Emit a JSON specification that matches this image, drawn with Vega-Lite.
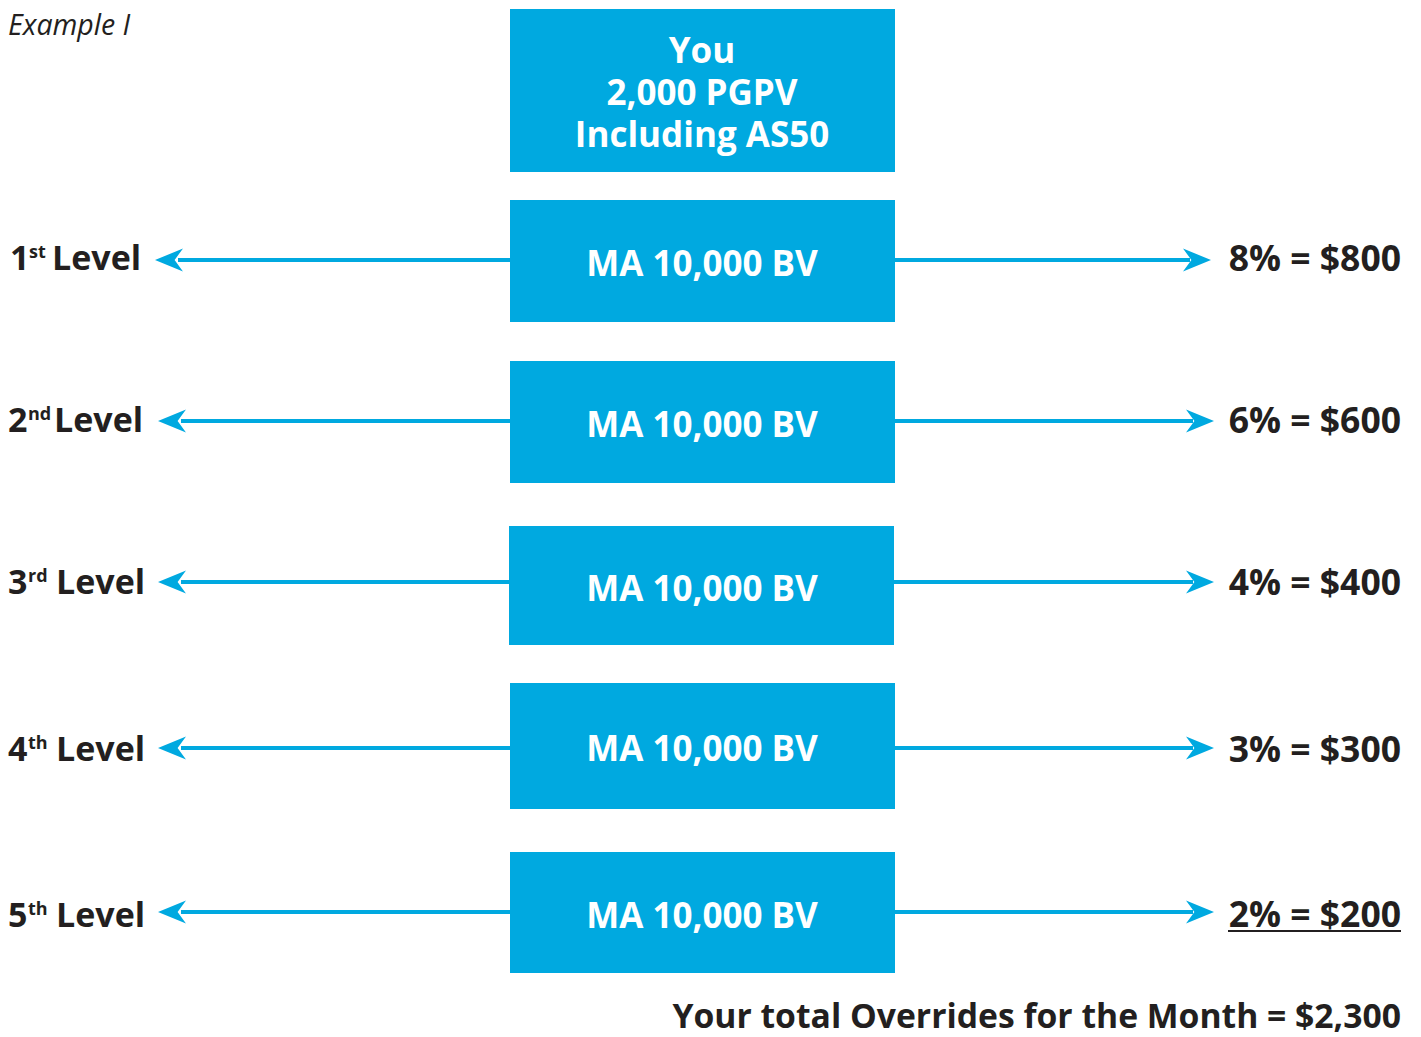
{
  "$schema": "https://vega.github.io/schema/vega-lite/v6.json",
  "width": 1421,
  "height": 1037,
  "padding": 0,
  "autosize": {"type": "fit", "contains": "padding"},
  "background": "white",
  "config": {"view": {"stroke": null}},
  "datasets": {
    "boxes": [
      {"x": 510, "x2": 895, "y": 9, "y2": 172},
      {"x": 510, "x2": 895, "y": 200, "y2": 322},
      {"x": 510, "x2": 895, "y": 361, "y2": 483},
      {"x": 509, "x2": 894, "y": 526, "y2": 645},
      {"x": 510, "x2": 895, "y": 683, "y2": 809},
      {"x": 510, "x2": 895, "y": 852, "y2": 973}
    ],
    "lines": [
      {"x": 178, "x2": 510, "y": 260},
      {"x": 895, "x2": 1190, "y": 260},
      {"x": 181, "x2": 510, "y": 421},
      {"x": 895, "x2": 1193, "y": 421},
      {"x": 181, "x2": 509, "y": 582},
      {"x": 894, "x2": 1193, "y": 582},
      {"x": 181, "x2": 510, "y": 748},
      {"x": 895, "x2": 1193, "y": 748},
      {"x": 181, "x2": 510, "y": 912},
      {"x": 895, "x2": 1193, "y": 912}
    ],
    "heads": [
      {"x": 169, "y": 260, "dir": "L"},
      {"x": 1197, "y": 260, "dir": "R"},
      {"x": 172, "y": 421, "dir": "L"},
      {"x": 1200, "y": 421, "dir": "R"},
      {"x": 172, "y": 582, "dir": "L"},
      {"x": 1200, "y": 582, "dir": "R"},
      {"x": 172, "y": 748, "dir": "L"},
      {"x": 1200, "y": 748, "dir": "R"},
      {"x": 172, "y": 912, "dir": "L"},
      {"x": 1200, "y": 912, "dir": "R"}
    ],
    "leftText": [
      {"x": 10, "y": 270, "t": "1"},
      {"x": 52, "y": 270, "t": "Level"},
      {"x": 8, "y": 432, "t": "2"},
      {"x": 54, "y": 432, "t": "Level"},
      {"x": 8, "y": 594, "t": "3"},
      {"x": 56, "y": 594, "t": "Level"},
      {"x": 8, "y": 761, "t": "4"},
      {"x": 56, "y": 761, "t": "Level"},
      {"x": 8, "y": 927, "t": "5"},
      {"x": 56, "y": 927, "t": "Level"}
    ],
    "sup": [
      {"x": 29, "y": 258, "t": "st"},
      {"x": 28, "y": 420, "t": "nd"},
      {"x": 28, "y": 582, "t": "rd"},
      {"x": 28, "y": 749, "t": "th"},
      {"x": 28, "y": 915, "t": "th"}
    ],
    "rightText": [
      {"x": 1401, "y": 271, "t": "8% = $800"},
      {"x": 1401, "y": 433, "t": "6% = $600"},
      {"x": 1401, "y": 595, "t": "4% = $400"},
      {"x": 1401, "y": 762, "t": "3% = $300"},
      {"x": 1401, "y": 927, "t": "2% = $200"}
    ],
    "total": [
      {"x": 1401, "y": 1028, "t": "Your total Overrides for the Month = $2,300"}
    ],
    "boxText": [
      {"x": 702, "y": 52, "t": "You\n2,000 PGPV\nIncluding AS50"},
      {"x": 702, "y": 265, "t": "MA 10,000 BV"},
      {"x": 702, "y": 426, "t": "MA 10,000 BV"},
      {"x": 702, "y": 590, "t": "MA 10,000 BV"},
      {"x": 702, "y": 750, "t": "MA 10,000 BV"},
      {"x": 702, "y": 917, "t": "MA 10,000 BV"}
    ],
    "underline": [
      {"x": 1228, "x2": 1401, "y": 931}
    ],
    "title": [
      {"x": 8, "y": 35, "t": "Example I"}
    ]
  },
  "encoding": {
    "x": {"field": "x", "type": "quantitative", "scale": {"domain": [0, 1421], "nice": false, "zero": false}, "axis": null},
    "y": {"field": "y", "type": "quantitative", "scale": {"domain": [0, 1037], "nice": false, "zero": false, "reverse": true}, "axis": null}
  },
  "layer": [
    {
      "data": {"name": "boxes"},
      "mark": {"type": "rect", "color": "#00A9E0"},
      "encoding": {"x2": {"field": "x2"}, "y2": {"field": "y2"}}
    },
    {
      "data": {"name": "lines"},
      "mark": {"type": "rule", "color": "#00A9E0", "strokeWidth": 4},
      "encoding": {"x2": {"field": "x2"}}
    },
    {
      "data": {"name": "heads"},
      "mark": {"type": "point", "filled": true, "color": "#00A9E0", "size": 784, "opacity": 1, "strokeWidth": 0},
      "encoding": {
        "shape": {"field": "dir", "type": "nominal", "legend": null,
          "scale": {"domain": ["L", "R"], "range": ["M -1 0 L 1 -0.82 L 0.4 0 L 1 0.82 Z", "M 1 0 L -1 -0.82 L -0.4 0 L -1 0.82 Z"]}}
      }
    },
    {
      "data": {"name": "leftText"},
      "mark": {"type": "text", "align": "left", "baseline": "alphabetic", "font": "Open Sans", "fontWeight": "bold", "fontSize": 34, "color": "#231F20"},
      "encoding": {"text": {"field": "t"}}
    },
    {
      "data": {"name": "sup"},
      "mark": {"type": "text", "align": "left", "baseline": "alphabetic", "font": "Open Sans", "fontWeight": "bold", "fontSize": 18, "color": "#231F20"},
      "encoding": {"text": {"field": "t"}}
    },
    {
      "data": {"name": "rightText"},
      "mark": {"type": "text", "align": "right", "baseline": "alphabetic", "font": "Open Sans", "fontWeight": "bold", "fontSize": 35.5, "color": "#231F20"},
      "encoding": {"text": {"field": "t"}}
    },
    {
      "data": {"name": "total"},
      "mark": {"type": "text", "align": "right", "baseline": "alphabetic", "font": "Open Sans", "fontWeight": "bold", "fontSize": 33.7, "color": "#231F20"},
      "encoding": {"text": {"field": "t"}}
    },
    {
      "data": {"name": "boxText"},
      "mark": {"type": "text", "align": "center", "baseline": "middle", "lineBreak": "\n", "lineHeight": 42, "font": "Open Sans", "fontWeight": "bold", "fontSize": 35, "color": "white"},
      "encoding": {"text": {"field": "t"}}
    },
    {
      "data": {"name": "underline"},
      "mark": {"type": "rule", "color": "#231F20", "strokeWidth": 2},
      "encoding": {"x2": {"field": "x2"}}
    },
    {
      "data": {"name": "title"},
      "mark": {"type": "text", "align": "left", "baseline": "alphabetic", "font": "Open Sans", "fontStyle": "italic", "fontSize": 28.5, "color": "#231F20"},
      "encoding": {"text": {"field": "t"}}
    }
  ]
}
